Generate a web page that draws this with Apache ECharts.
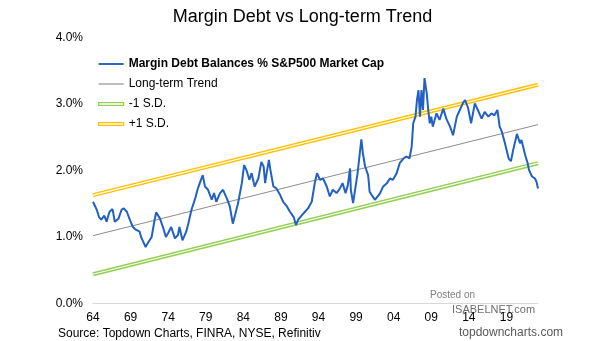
<!DOCTYPE html>
<html>
<head>
<meta charset="utf-8">
<script src="https://cdn.jsdelivr.net/npm/echarts@6/dist/echarts.min.js"></script>
<style>
html,body{margin:0;padding:0;background:#fff;}
#chart{width:605px;height:341px;}
</style>
</head>
<body>
<div id="chart"></div>
<script>
// ---- data ----
const baseYear = 1964;
const endYear = 2023.2;
const xTickLabels = ['64','69','74','79','84','89','94','99','04','09','14','19'];
const yTickLabels = ['0.0%','1.0%','2.0%','3.0%','4.0%'];

const years = [
1964.0,1964.2,1964.5,1964.8,1965.1,1965.5,1965.8,1966.2,1966.6,1966.9,
1967.4,1967.8,1968.1,1968.5,1968.9,1969.3,1969.7,1970.2,1970.4,1970.6,
1971.0,1971.3,1971.8,1972.2,1972.4,1972.9,1973.3,1973.7,1974.0,1974.4,
1974.9,1975.3,1975.5,1975.9,1976.4,1976.7,1977.1,1977.6,1977.9,1978.2,
1978.6,1978.9,1979.3,1979.8,1980.1,1980.4,1980.9,1981.3,1981.8,1982.2,
1982.6,1982.9,1983.3,1983.8,1984.1,1984.4,1984.8,1985.1,1985.5,1986.0,
1986.4,1986.7,1986.9,1987.1,1987.4,1987.6,1988.0,1988.4,1988.9,1989.3,
1989.8,1990.2,1990.7,1991.0,1991.3,1991.8,1992.2,1992.6,1993.1,1993.5,
1993.8,1994.2,1994.6,1995.1,1995.5,1995.9,1996.4,1996.8,1997.2,1997.6,
1997.9,1998.2,1998.3,1998.6,1998.8,1999.2,1999.7,1999.9,2000.2,2000.6,
2000.8,2001.2,2001.5,2001.7,2002.2,2002.6,2003.1,2003.5,2003.9,2004.4,
2004.8,2005.3,2005.7,2006.1,2006.4,2006.6,2006.9,2007.1,2007.3,2007.5,
2007.7,2007.9,2008.1,2008.4,2008.6,2008.8,2009.0,2009.2,2009.7,2010.1,
2010.6,2011.0,2011.5,2011.9,2012.4,2012.8,2013.2,2013.5,2013.9,2014.3,
2014.8,2015.2,2015.7,2016.1,2016.6,2017.0,2017.4,2017.8,2018.1,2018.4,
2018.8,2019.3,2019.6,2019.9,2020.4,2020.8,2021.0,2021.5,2021.8,2022.0,
2022.4,2022.8,2023.0,2023.2
];
const marginDebt = [
1.53,1.50,1.41,1.30,1.26,1.32,1.23,1.38,1.42,1.23,
1.28,1.41,1.43,1.38,1.26,1.15,1.11,1.08,1.00,0.95,
0.85,0.91,1.00,1.26,1.37,1.28,1.15,1.00,1.06,1.15,
0.98,1.03,1.15,0.95,1.08,1.21,1.41,1.58,1.71,1.81,
1.93,1.76,1.71,1.56,1.66,1.53,1.66,1.71,1.58,1.46,
1.20,1.33,1.51,1.81,2.08,2.01,1.86,1.96,1.76,1.88,
2.13,2.06,1.81,1.96,2.16,2.01,1.76,1.73,1.63,1.53,
1.46,1.38,1.30,1.18,1.26,1.33,1.38,1.43,1.53,1.81,
1.96,1.86,1.88,1.76,1.61,1.71,1.66,1.72,1.81,1.66,
1.78,2.03,1.71,1.51,1.66,1.96,2.47,2.26,2.06,1.93,
1.68,1.61,1.56,1.53,1.66,1.76,1.81,1.88,1.86,1.96,
2.11,2.18,2.21,2.18,2.36,2.71,2.81,3.06,3.21,2.81,
3.21,2.91,3.39,3.16,2.91,2.71,2.81,2.66,2.86,2.76,
2.93,2.78,2.66,2.53,2.81,2.91,3.01,3.06,2.94,2.71,
3.01,2.91,2.78,2.88,2.81,2.86,2.83,2.91,2.66,2.58,
2.41,2.18,2.14,2.31,2.55,2.41,2.46,2.23,2.12,2.01,
1.91,1.88,1.83,1.73
];
const trendLine = [1.02, 2.69];   // value at start, value at end
const plusOneSD = [1.63, 3.29];
const minusOneSD = [0.44, 2.11];

// ---- build ----
const span = endYear - baseYear;
const debtData = years.map((y, i) => [y - baseYear, marginDebt[i]]);
const twoPoint = arr => [[0, arr[0]], [span, arr[1]]];

const FONT = '"Liberation Sans", Arial, sans-serif';
const BLUE = '#2160C4', GREY = '#8C8C8C', YELLOW = '#FFC000', GREEN = '#92D050';

const chart = echarts.init(document.getElementById('chart'), null, {renderer: 'canvas'});
chart.setOption({
  animation: false,
  backgroundColor: '#fff',
  textStyle: {fontFamily: FONT},
  title: {
    text: 'Margin Debt vs Long-term Trend',
    left: 'center', top: 3,
    textStyle: {fontFamily: FONT, fontSize: 18, fontWeight: 'normal', color: '#000'}
  },
  grid: {left: 93, right: 67, top: 37.5, bottom: 37.5, containLabel: false},
  legend: {
    orient: 'vertical', left: 98, top: 58, padding: 0,
    itemWidth: 25, itemHeight: 12, itemGap: 8,
    textStyle: {fontFamily: FONT, fontSize: 12, color: '#000'},
    data: [
      {name: 'Margin Debt Balances % S&P500 Market Cap', icon: 'path://M0,0L26,0L26,2L0,2Z',
        itemStyle: {color: BLUE, borderWidth: 0}, textStyle: {fontWeight: 'bold'}},
      {name: 'Long-term Trend', icon: 'path://M0,0L26,0L26,1.2L0,1.2Z', itemStyle: {color: GREY, borderWidth: 0}},
      {name: '-1 S.D.', icon: 'path://M0,0L26,0L26,3L0,3Z', itemStyle: {color: '#fff', borderColor: GREEN, borderWidth: 1.3}},
      {name: '+1 S.D.', icon: 'path://M0,0L26,0L26,3L0,3Z', itemStyle: {color: '#fff', borderColor: YELLOW, borderWidth: 1.3}}
    ]
  },
  xAxis: {
    type: 'value', min: 0, max: span, interval: 5,
    axisLine: {show: true, lineStyle: {color: '#D9D9D9', width: 1}},
    axisTick: {show: false},
    splitLine: {show: false},
    axisLabel: {
      margin: 8, color: '#000', fontSize: 12, fontFamily: FONT, showMaxLabel: false,
      formatter: v => { const i = Math.round(v / 5); return (Math.abs(v - i * 5) < 1e-6 && xTickLabels[i]) ? xTickLabels[i] : ''; }
    }
  },
  yAxis: {
    type: 'value', min: 0, max: 4, interval: 1,
    axisLine: {show: false}, axisTick: {show: false}, splitLine: {show: false},
    axisLabel: {margin: 10, color: '#000', fontSize: 12, fontFamily: FONT,
      formatter: v => yTickLabels[Math.round(v)] || ''}
  },
  series: [
    {name: '+1 S.D.', type: 'line', data: twoPoint(plusOneSD), symbol: 'none', silent: true,
      lineStyle: {color: YELLOW, width: 4}, itemStyle: {color: YELLOW}, z: 1},
    {name: 'plusInner', type: 'line', data: twoPoint(plusOneSD), symbol: 'none', silent: true,
      lineStyle: {color: '#fff', width: 1.2}, z: 2},
    {name: '-1 S.D.', type: 'line', data: twoPoint(minusOneSD), symbol: 'none', silent: true,
      lineStyle: {color: GREEN, width: 4}, itemStyle: {color: GREEN}, z: 1},
    {name: 'minusInner', type: 'line', data: twoPoint(minusOneSD), symbol: 'none', silent: true,
      lineStyle: {color: '#fff', width: 1.2}, z: 2},
    {name: 'Long-term Trend', type: 'line', data: twoPoint(trendLine), symbol: 'none', silent: true,
      lineStyle: {color: GREY, width: 1}, itemStyle: {color: GREY}, z: 3},
    {name: 'Margin Debt Balances % S&P500 Market Cap', type: 'line', data: debtData, symbol: 'none',
      lineStyle: {color: BLUE, width: 2}, itemStyle: {color: BLUE}, z: 4}
  ],
  graphic: [
    {type: 'text', left: 58, top: 328, style: {text: 'Source: Topdown Charts, FINRA, NYSE, Refinitiv', fontFamily: FONT, fontSize: 12, fill: '#000'}},
    {type: 'text', left: 459, top: 327, style: {text: 'topdowncharts.com', fontFamily: FONT, fontSize: 12, fill: '#595959'}},
    {type: 'text', left: 430, top: 290, style: {text: 'Posted on', fontFamily: FONT, fontSize: 10, fill: '#7F7F7F'}},
    {type: 'text', left: 452, top: 304, style: {text: 'ISABELNET.com', fontFamily: FONT, fontSize: 11, fill: '#6E6E6E'}}
  ]
});
</script>
</body>
</html>
